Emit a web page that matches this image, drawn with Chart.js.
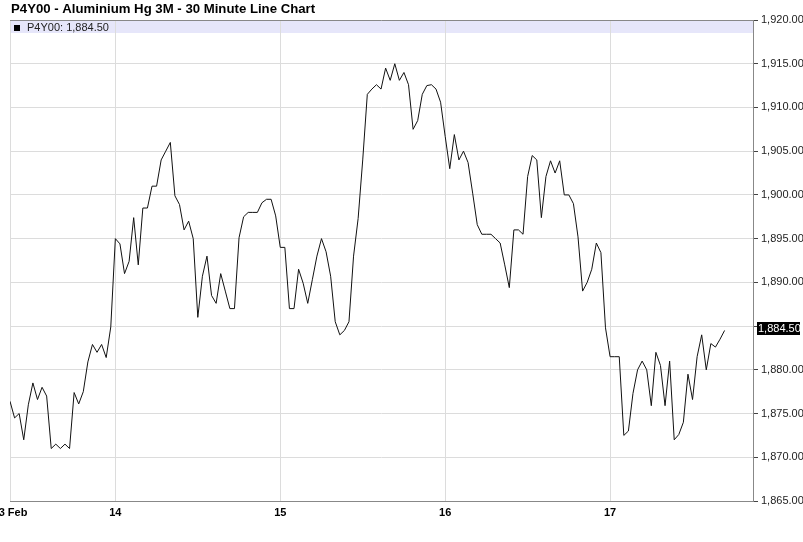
<!DOCTYPE html>
<html>
<head>
<meta charset="utf-8">
<script src="https://cdn.jsdelivr.net/npm/chart.js@4"></script>
<style>
  body { margin: 0; background: #fff; }
  canvas { display: block; }
</style>
</head>
<body>
<canvas id="chart" width="803" height="542"></canvas>
<script>
var symbol = "P4Y00";
var chartTitle = "P4Y00 - Aluminium Hg 3M - 30 Minute Line Chart";

// 30 minute closes, one per bar, from 13 Feb
var closes = [
  1876.4, 1874.5, 1875.0, 1872.0, 1876.0, 1878.5, 1876.6, 1878.0, 1877.0, 1871.0,
  1871.5, 1871.0, 1871.5, 1871.0, 1877.4, 1876.1, 1877.5, 1880.9, 1882.9, 1882.0,
  1882.9, 1881.4, 1884.9,
  1895.0, 1894.4, 1891.0, 1892.4, 1897.4, 1892.0, 1898.5, 1898.5, 1901.0, 1901.0,
  1904.0, 1905.0, 1906.0, 1899.9, 1898.9, 1896.0, 1897.0, 1895.0, 1886.0, 1890.7,
  1893.0, 1888.5, 1887.6, 1891.0, 1889.0, 1887.0, 1887.0, 1895.1, 1897.5, 1898.0,
  1898.0, 1898.0, 1899.1, 1899.5, 1899.5, 1897.6,
  1894.0, 1894.0, 1887.0, 1887.0, 1891.5, 1889.9, 1887.6, 1890.3, 1893.0, 1895.0,
  1893.5, 1890.7, 1885.5, 1884.0, 1884.5, 1885.5, 1893.0, 1897.3, 1904.0, 1911.5,
  1912.1, 1912.6, 1912.1, 1914.5, 1913.1, 1915.0, 1913.1, 1914.0, 1912.6, 1907.5,
  1908.5, 1911.5, 1912.5, 1912.6, 1912.1, 1910.6,
  1906.7, 1903.0, 1906.9, 1904.0, 1905.0, 1903.7, 1900.2, 1896.6, 1895.5, 1895.5,
  1895.5, 1895.0, 1894.5, 1892.0, 1889.4, 1896.0, 1896.0, 1895.5, 1902.1, 1904.5,
  1904.0, 1897.4, 1902.1, 1903.9, 1902.5, 1903.9, 1900.0, 1900.0, 1899.0, 1895.2,
  1889.0, 1890.0, 1891.5, 1894.5, 1893.4, 1884.8,
  1881.5, 1881.5, 1881.5, 1872.5, 1873.0, 1877.3, 1880.0, 1881.0, 1880.0, 1875.9,
  1882.0, 1880.5, 1875.9, 1881.0, 1872.0, 1872.6, 1874.0, 1879.5, 1876.6, 1881.5,
  1884.0, 1880.0, 1883.0, 1882.6, 1883.5, 1884.5
];

// day labels and the bar index where each day begins
var dayLabels = ["13 Feb", "14", "15", "16", "17"];
var dayStarts = [0, 23, 59, 95, 131];

var yMin = 1865, yMax = 1920, yStep = 5;
var xMax = 162.2;

var points = closes.map(function (v, i) { return { x: i, y: v }; });
var lastClose = closes[closes.length - 1];

function fmt(v) {
  return v.toLocaleString("en-US", { minimumFractionDigits: 2, maximumFractionDigits: 2 });
}

var decorations = {
  id: "decorations",
  beforeDraw: function (chart) {
    var ctx = chart.ctx, a = chart.chartArea;
    ctx.save();
    ctx.fillStyle = "#e6e6fa";
    ctx.fillRect(a.left, a.top, a.right - a.left, 13);
    ctx.restore();
  },
  afterDraw: function (chart) {
    var ctx = chart.ctx, a = chart.chartArea;
    ctx.save();
    // title
    ctx.fillStyle = "#000";
    ctx.font = "bold 13.2px 'Liberation Sans', Arial, sans-serif";
    ctx.textBaseline = "alphabetic";
    ctx.textAlign = "left";
    ctx.fillText(chartTitle, 11, 13);
    // legend
    ctx.fillRect(14, 25, 6, 6);
    ctx.font = "11px 'Liberation Sans', Arial, sans-serif";
    ctx.fillStyle = "#222";
    ctx.fillText(symbol + ": " + fmt(lastClose), 27, 31);
    // top border
    ctx.strokeStyle = "#888";
    ctx.lineWidth = 1;
    ctx.beginPath();
    ctx.moveTo(a.left, a.top + 0.5);
    ctx.lineTo(a.right, a.top + 0.5);
    ctx.stroke();
    // last value marker, covering the nearby tick label
    var y = Math.round(chart.scales.y.getPixelForValue(lastClose)) - 2;
    ctx.fillStyle = "#fff";
    ctx.fillRect(759, y - 9, 44, 18);
    ctx.fillStyle = "#000";
    ctx.fillRect(757, y - 6, 43, 13);
    ctx.fillStyle = "#fff";
    ctx.textBaseline = "middle";
    ctx.fillText(fmt(lastClose), 758, y + 1);
    ctx.restore();
  }
};

new Chart(document.getElementById("chart"), {
  type: "line",
  data: {
    datasets: [{
      data: points,
      borderColor: "#111",
      borderWidth: 1,
      pointRadius: 0,
      tension: 0,
      fill: false
    }]
  },
  options: {
    responsive: false,
    animation: false,
    layout: { padding: { top: 20, left: 10, right: 0, bottom: 0 } },
    plugins: {
      legend: { display: false },
      tooltip: { enabled: false },
      title: { display: false }
    },
    scales: {
      x: {
        type: "linear",
        min: 0,
        max: xMax,
        grid: { color: "#dcdcdc", drawTicks: false },
        border: { color: "#888" },
        afterBuildTicks: function (scale) {
          scale.ticks = dayStarts.map(function (v) { return { value: v }; });
        },
        afterFit: function (scale) {
          scale.height = 41;
          scale.paddingLeft = 0;
          scale.paddingRight = 0;
        },
        ticks: {
          autoSkip: false,
          maxRotation: 0,
          padding: 5,
          color: "#000",
          font: { family: "'Liberation Sans', Arial, sans-serif", size: 11, weight: "bold" },
          callback: function (v) {
            var k = dayStarts.indexOf(v);
            return k >= 0 ? dayLabels[k] : "";
          }
        }
      },
      y: {
        position: "right",
        min: yMin,
        max: yMax,
        grid: { color: "#dcdcdc", tickColor: "#444", tickLength: 5 },
        border: { color: "#888" },
        afterFit: function (scale) { scale.width = 50; },
        ticks: {
          stepSize: yStep,
          padding: 3,
          color: "#222",
          font: { family: "'Liberation Sans', Arial, sans-serif", size: 11 },
          callback: function (v) { return fmt(v); }
        }
      }
    }
  },
  plugins: [decorations]
});
</script>
</body>
</html>
